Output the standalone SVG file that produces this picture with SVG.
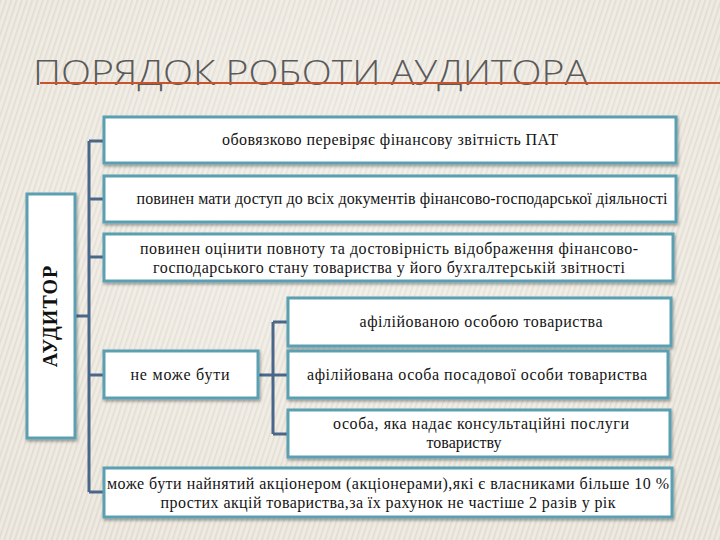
<svg xmlns="http://www.w3.org/2000/svg" width="720" height="540" viewBox="0 0 720 540">
  <defs>
    <pattern id="stripes" width="5" height="10" patternUnits="userSpaceOnUse" patternTransform="rotate(18)">
      <rect width="5" height="10" fill="#eeeae1"/>
      <rect width="1.6" height="10" fill="#e0dacf"/>
    </pattern>
    <radialGradient id="glow" cx="0.5" cy="0.4" r="0.7">
      <stop offset="0" stop-color="#ffffff" stop-opacity="0.35"/>
      <stop offset="1" stop-color="#ffffff" stop-opacity="0"/>
    </radialGradient>
    <filter id="sh" x="-10%" y="-10%" width="120%" height="130%">
      <feDropShadow dx="1" dy="2" stdDeviation="1.5" flood-color="#000" flood-opacity="0.35"/>
    </filter>
  </defs>
  <style>
    .box { fill: #ffffff; stroke: #5a9fb2; stroke-width: 3; filter: url(#sh); }
    .t { font-family: "Liberation Serif", "Times New Roman", serif; font-size: 16px; fill: #141414; text-anchor: middle; }
    .ln { stroke: #4a6688; stroke-width: 3; fill: none; }
  </style>
  <rect width="720" height="540" fill="url(#stripes)"/>
  <rect width="720" height="540" fill="url(#glow)"/>

  <g id="title">
    <text x="33" y="85" font-family="'Open Sans', 'DejaVu Sans', sans-serif" font-weight="300" font-size="35" fill="#5a5a5a" textLength="555" lengthAdjust="spacingAndGlyphs">ПОРЯДОК РОБОТИ АУДИТОРА</text>
    <line x1="40" y1="83" x2="720" y2="83" stroke="#c9542c" stroke-width="2"/>
  </g>

  <g id="connectors">
    <line class="ln" x1="75" y1="316" x2="89" y2="316"/>
    <line class="ln" x1="89" y1="141" x2="89" y2="492"/>
    <line class="ln" x1="89" y1="141" x2="104" y2="141"/>
    <line class="ln" x1="89" y1="199" x2="104" y2="199"/>
    <line class="ln" x1="89" y1="257" x2="104" y2="257"/>
    <line class="ln" x1="89" y1="375" x2="104" y2="375"/>
    <line class="ln" x1="89" y1="492" x2="104" y2="492"/>
    <line class="ln" x1="258" y1="375" x2="288" y2="375"/>
    <line class="ln" x1="273" y1="322" x2="273" y2="434"/>
    <line class="ln" x1="273" y1="322" x2="288" y2="322"/>
    <line class="ln" x1="273" y1="434" x2="288" y2="434"/>
  </g>

  <g id="auditor">
    <rect class="box" x="27" y="194" width="48" height="244"/>
    <text transform="translate(57 316) rotate(-90)" font-family="'Liberation Serif', 'Times New Roman', serif" font-weight="bold" font-size="20" fill="#111" text-anchor="middle" letter-spacing="1">АУДИТОР</text>
  </g>

  <g id="n1">
    <rect class="box" x="104" y="117" width="572" height="46"/>
    <text class="t" x="390" y="145" textLength="336">обовязково перевіряє фінансову звітність ПАТ</text>
  </g>
  <g id="n2">
    <rect class="box" x="104" y="176" width="572" height="46"/>
    <text class="t" x="402" y="204" textLength="531">повинен мати доступ до всіх документів фінансово-господарської діяльності</text>
  </g>
  <g id="n3">
    <rect class="box" x="104" y="234" width="569" height="47"/>
    <text class="t" x="389" y="254" textLength="498">повинен оцінити повноту та достовірність відображення фінансово-</text>
    <text class="t" x="389" y="273" textLength="472">господарського стану товариства у його бухгалтерській звітності</text>
  </g>
  <g id="n4">
    <rect class="box" x="104" y="351" width="154" height="47"/>
    <text class="t" x="180" y="380" textLength="99">не може бути</text>
  </g>
  <g id="n5">
    <rect class="box" x="288" y="298" width="383" height="48"/>
    <text class="t" x="481" y="327" textLength="243">афілійованою особою товариства</text>
  </g>
  <g id="n6">
    <rect class="box" x="288" y="351" width="380" height="47"/>
    <text class="t" x="477" y="380" textLength="340">афілійована особа посадової особи товариства</text>
  </g>
  <g id="n7">
    <rect class="box" x="288" y="410" width="382" height="47"/>
    <text class="t" x="481" y="429" textLength="296">особа, яка надає консультаційні послуги</text>
    <text class="t" x="464" y="448">товариству</text>
  </g>
  <g id="n8">
    <rect class="box" x="104" y="468" width="568" height="49"/>
    <text class="t" x="388" y="489" textLength="562">може бути найнятий акціонером (акціонерами),які є власниками більше 10 %</text>
    <text class="t" x="388" y="508" textLength="455">простих акцій товариства,за їх рахунок не частіше 2 разів у рік</text>
  </g>
</svg>
